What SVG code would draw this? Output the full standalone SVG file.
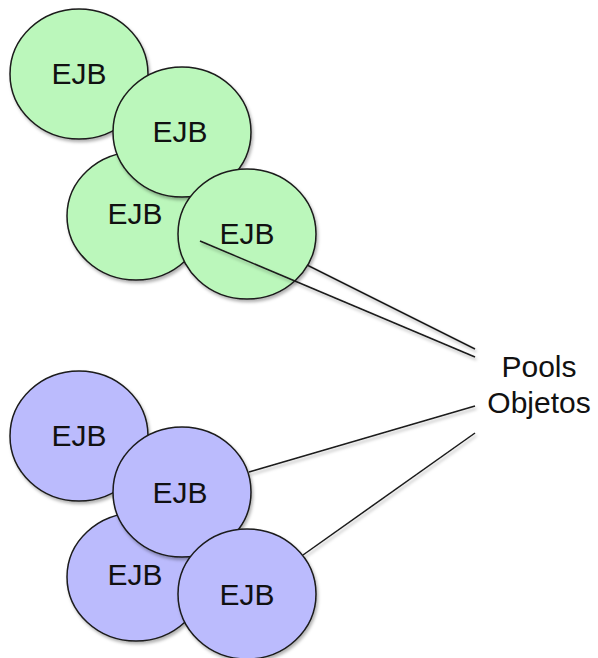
<svg xmlns="http://www.w3.org/2000/svg" width="598" height="658" viewBox="0 0 598 658">
<style>
.g{fill:#bbf7bb;stroke:#1a1a1a;stroke-width:1.5;filter:url(#sh)}
.b{fill:#bbbbfd;stroke:#1a1a1a;stroke-width:1.5;filter:url(#sh)}
.t{font-family:"Liberation Sans",Arial,sans-serif;font-size:30px;fill:#111;text-anchor:middle}
.c{stroke:#1a1a1a;stroke-width:1.5;fill:none;filter:url(#sh)}
</style>
<defs>
<filter id="sh" x="-20%" y="-20%" width="140%" height="140%">
<feDropShadow dx="1.5" dy="2.5" stdDeviation="1.5" flood-color="#000" flood-opacity="0.3"/>
</filter>
</defs>
<g id="green-1"><ellipse class="g" cx="79" cy="74" rx="69" ry="65"/><text class="t" x="79" y="84">EJB</text></g>
<g id="green-3"><ellipse class="g" cx="136" cy="216" rx="69" ry="64"/><text class="t" x="135" y="224">EJB</text></g>
<g id="green-2"><ellipse class="g" cx="182" cy="132" rx="69" ry="65"/><text class="t" x="180" y="142">EJB</text></g>
<g id="green-4"><ellipse class="g" cx="247" cy="234" rx="69" ry="65"/><text class="t" x="247" y="244">EJB</text></g>
<g id="blue-1"><ellipse class="b" cx="79" cy="436" rx="69" ry="65"/><text class="t" x="79" y="446">EJB</text></g>
<g id="blue-3"><ellipse class="b" cx="136" cy="577" rx="69" ry="64"/><text class="t" x="135" y="585">EJB</text></g>
<g id="blue-2"><ellipse class="b" cx="182" cy="492" rx="69" ry="65"/><text class="t" x="180" y="503">EJB</text></g>
<g id="blue-4"><ellipse class="b" cx="247" cy="594" rx="69" ry="65"/><text class="t" x="247" y="605">EJB</text></g>
<g id="connectors">
<line class="c" x1="308" y1="265.5" x2="475" y2="349"/>
<line class="c" x1="200" y1="241" x2="475" y2="357"/>
<line class="c" x1="249" y1="472" x2="475" y2="406"/>
<line class="c" x1="303" y1="555" x2="475" y2="433"/>
</g>
<g id="label"><text class="t" x="539" y="377">Pools</text><text class="t" x="539" y="413">Objetos</text></g>
</svg>
